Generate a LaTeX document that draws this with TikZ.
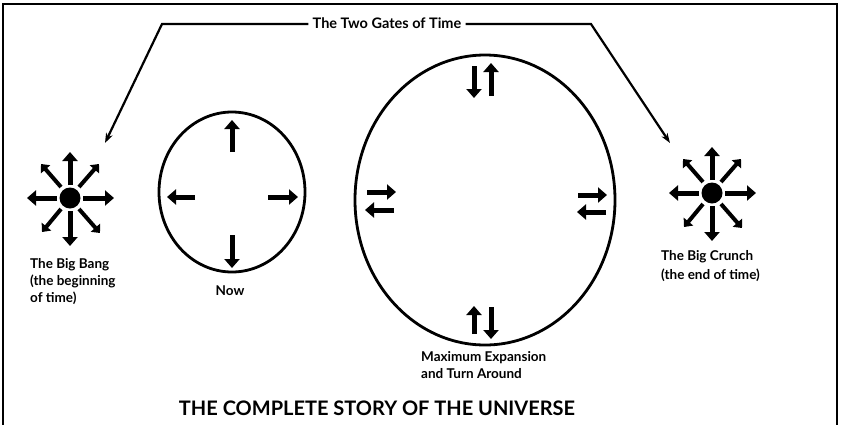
\documentclass[tikz,border=0pt]{standalone}
\usepackage{fontspec}
\setmainfont{Lato}
\usetikzlibrary{arrows.meta,shapes.geometric}
\begin{document}
\begin{tikzpicture}[x=1pt,y=-1pt,
  bar/.style={line width=5pt,-{Triangle[length=9pt,width=15pt]}},
  diag/.style={line width=4pt,-{Triangle[length=7pt,width=12pt]}},
  gateline/.style={line width=2.2pt,-{Stealth[length=10pt,width=7pt]}},
  lbl/.style={font=\bfseries\fontsize{13.5}{17}\selectfont,inner sep=0pt,align=left},
  ring/.style={draw,line width=2.8pt},
  burst/.pic={
    \fill (0,0) circle (10.5);
    \draw[bar] (0,-13) -- (0,-46);
    \draw[bar] (0,13) -- (0,48);
    \draw[bar] (-13,0) -- (-43,0);
    \draw[bar] (13,0) -- (44,0);
    \draw[diag] (-9,-11) -- (-29,-34);
    \draw[diag] (9,-11) -- (29,-34);
    \draw[diag] (-9,11) -- (-28,34);
    \draw[diag] (9,11) -- (30,35);
  }]
\useasboundingbox (0,0) rectangle (841,424);
\begin{scope}
\clip (0,0) rectangle (841,424);
\draw[line width=2pt] (3,4) rectangle (837,440);
\end{scope}

% title line
\node[font=\bfseries\fontsize{14.5}{16}\selectfont,inner sep=4pt] (gates) at (387,23) {The Two Gates of Time};
\coordinate (lc) at (162,24);
\coordinate (rc) at (591,24);
\coordinate (bbtip) at (105,143);
\coordinate (bctip) at (670,143);
\draw[gateline] (gates.west |- lc) -- (lc) -- (bbtip);
\draw[gateline] (gates.east |- rc) -- (rc) -- (bctip);

% Big Bang
\pic at (70,198) {burst};
\node[lbl,anchor=north west] (bb) at (30,258) {The Big Bang\\(the beginning\\of time)};

% Big Crunch
\pic at (712,193) {burst};
\node[lbl,anchor=north west,font=\bfseries\fontsize{13.5}{19.5}\selectfont] (bc) at (661,250) {The Big Crunch\\(the end of time)};

% Now ellipse
\node[ring,ellipse,minimum width=146pt,minimum height=160pt,inner sep=0pt] (now) at (232,192) {};
\draw[bar] (232,152) -- (232,120);
\draw[bar] (195,197) -- (167,197);
\draw[bar] (268,197) -- (298,197);
\draw[bar] (232,235) -- (232,268);
\node[lbl] (nowl) at (230,291) {Now};

% Maximum expansion ellipse
\node[ring,ellipse,minimum width=260pt,minimum height=290pt,inner sep=0pt] (max) at (485,200) {};
\draw[bar] (474,66) -- (474,98);
\draw[bar] (491,96) -- (491,63);
\draw[bar] (367,192) -- (396,192);
\draw[bar] (394,210) -- (365,210);
\draw[bar] (578,195) -- (607,195);
\draw[bar] (606,212) -- (577,212);
\draw[bar] (474,334) -- (474,306);
\draw[bar] (491,307) -- (491,339);
\node[lbl,anchor=north west] (maxl) at (421,351) {Maximum Expansion\\and Turn Around};

% caption
\node[font=\fontsize{20}{22}\selectfont\bfseries,inner sep=0pt] (cap) at (377,408) {THE COMPLETE STORY OF THE UNIVERSE};
\end{tikzpicture}
\end{document}
